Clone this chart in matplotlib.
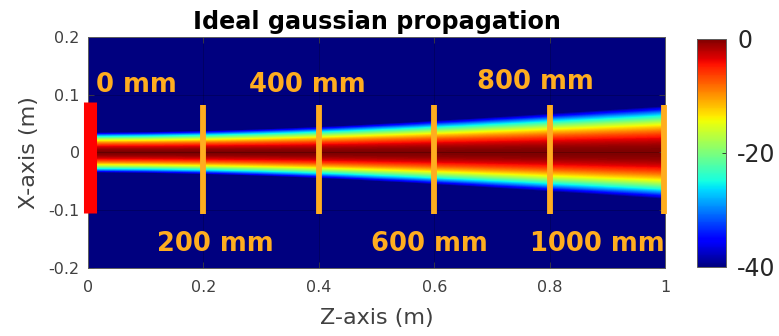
import numpy as np
import matplotlib
matplotlib.use('Agg')
import matplotlib.pyplot as plt

# -40 dB half-width of the beam (m) read at each z (m)
z_read = [0.0, 0.1, 0.2, 0.3, 0.4, 0.5, 0.6, 0.7, 0.8, 0.9, 1.0]
edge_read = [0.035, 0.036, 0.038, 0.041, 0.045, 0.050, 0.0557, 0.0616, 0.068, 0.0743, 0.081]
db_floor = -40.

# aperture at z = 0 and detector planes
src_z = 0.0026
src_x = [-0.104, 0.088]
plane_z = [0.2, 0.4, 0.6, 0.8, 0.998]
plane_x = [-0.106, 0.083]

labels = ['0 mm', '200 mm', '400 mm', '600 mm', '800 mm', '1000 mm']
label_z = [0.014, 0.22, 0.38, 0.592, 0.776, 0.883]
label_x = [0.1165, -0.158, 0.1165, -0.158, 0.122, -0.158]
label_ha = ['left', 'center', 'center', 'center', 'center', 'center']

orange = '#FFAD1F'
grey = '#404040'

x = np.linspace(-0.2, 0.2, 401)
edge = np.array(edge_read)
# gaussian profile in dB, reaches db_floor at the read edge
field = db_floor*(x[:, None]/edge[None, :])**2

fig = plt.figure(figsize = (7.79, 3.36), dpi = 100)
ax = fig.add_axes([0.113, 0.2024, 0.7407, 0.6875])
dz = z_read[1] - z_read[0]
dx = x[1] - x[0]
im = ax.imshow(field, cmap = 'jet', vmin = db_floor, vmax = 0,
               origin = 'lower', aspect = 'auto',
               interpolation = 'bilinear', interpolation_stage = 'data',
               extent = [z_read[0] - dz/2, z_read[-1] + dz/2,
                         x[0] - dx/2, x[-1] + dx/2])
ax.set_xlim(0, 1)
ax.set_ylim(-0.2, 0.2)
ax.set_xticks([0, 0.2, 0.4, 0.6, 0.8, 1])
ax.set_xticklabels(['0', '0.2', '0.4', '0.6', '0.8', '1'])
ax.set_yticks([-0.2, -0.1, 0, 0.1, 0.2])
ax.set_yticklabels(['-0.2', '-0.1', '0', '0.1', '0.2'])
ax.grid(True, color = 'k', alpha = 0.25, lw = 0.6)
ax.tick_params(direction = 'in', length = 4, width = 0.6, colors = grey,
               labelsize = 11.5, top = True, right = True)
ax.tick_params(axis = 'x', pad = 9)
ax.tick_params(axis = 'y', pad = 6)
for s in ax.spines.values():
    s.set_color('#606060')
    s.set_linewidth(0.7)

ax.plot([src_z, src_z], src_x, color = '#FF0000', lw = 9.4,
        solid_capstyle = 'butt', clip_on = False, zorder = 4)
for zz in plane_z:
    ax.plot([zz, zz], plane_x, color = orange, lw = 4.2,
            solid_capstyle = 'butt', clip_on = False, zorder = 4)
for t, zz, xx, ha in zip(labels, label_z, label_x, label_ha):
    ax.text(zz, xx, t, color = orange, fontsize = 18.5, fontweight = 'bold',
            ha = ha, va = 'center', zorder = 5)

ax.set_title('Ideal gaussian propagation', fontsize = 17.2, fontweight = 'bold',
             pad = 6)
ax.set_xlabel('Z-axis (m)', fontsize = 16, color = grey)
ax.set_ylabel('X-axis (m)', fontsize = 16, color = grey)
ax.xaxis.set_label_coords(0.5, -0.175)
ax.yaxis.set_label_coords(-0.085, 0.5)

cax = fig.add_axes([0.8947, 0.2054, 0.0372, 0.6786])
cb = fig.colorbar(im, cax = cax, ticks = [0, -20, -40])
cb.ax.set_yticklabels(['0', '-20', '-40'])
cb.ax.tick_params(direction = 'in', length = 3, width = 0.6, colors = '#262626',
                  labelsize = 17, pad = 8)
cb.outline.set_edgecolor('#606060')
cb.outline.set_linewidth(0.7)

fig.savefig('out.png', dpi = 100)
